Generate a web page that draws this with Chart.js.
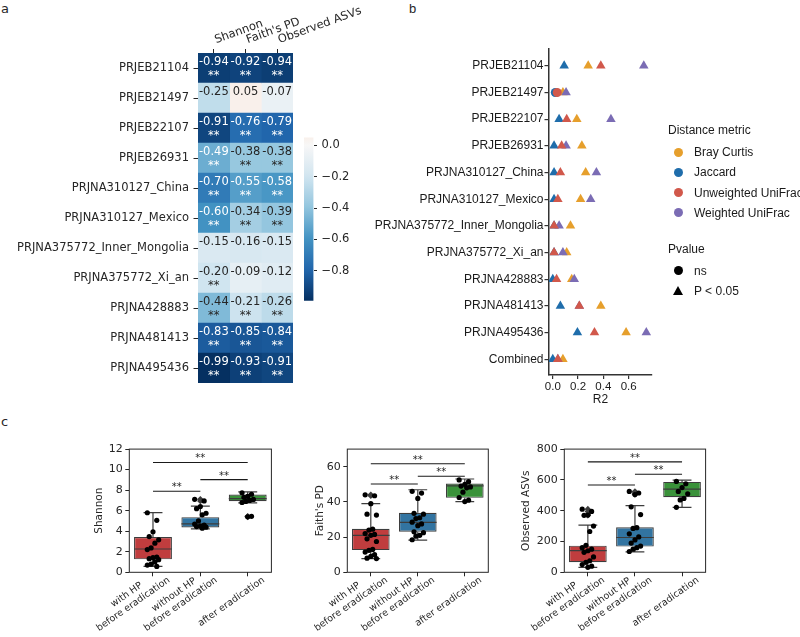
<!DOCTYPE html>
<html>
<head>
<meta charset="utf-8">
<title>Alpha and beta diversity</title>
<script src="https://cdn.jsdelivr.net/npm/chart.js@4.4.1/dist/chart.umd.min.js"></script>
<style>
  body { margin: 0; background: #fff; }
  #page { position: relative; width: 800px; height: 637px; overflow: hidden; font-family: 'DejaVu Sans', sans-serif; color: #262626; }
  canvas { position: absolute; }
  .tag { position: absolute; font-size: 13px; line-height: 1; }
  .lg { position: absolute; font: 12px 'Liberation Sans', Arial, sans-serif; color: #1a1a1a; white-space: nowrap; line-height: 14px; }
  .dot { position: absolute; width: 9px; height: 9px; border-radius: 50%; }
  .tri { position: absolute; width: 0; height: 0; border-left: 5px solid transparent; border-right: 5px solid transparent; border-bottom: 9px solid #000; }
</style>
</head>
<body>
<div id="page">
  <div class="tag" style="left:1px;top:2px">a</div>
  <div class="tag" style="left:409px;top:2px;font-family:'Liberation Sans'">b</div>
  <div class="tag" style="left:1px;top:415px">c</div>
  <canvas id="heat" width="380" height="395" style="left:0;top:0"></canvas>
  <canvas id="cbar" width="80" height="190" style="left:290px;top:126px"></canvas>
  <canvas id="perm" width="440" height="420" style="left:360px;top:0"></canvas>
  <div id="legend"></div>
  <canvas id="box1" width="185" height="197" style="left:93px;top:440px"></canvas>
  <canvas id="box2" width="180" height="197" style="left:314px;top:440px"></canvas>
  <canvas id="box3" width="190" height="197" style="left:520px;top:440px"></canvas>
</div>
<script>
// ---------- panel a: correlation heatmap ----------
const studies = ['PRJEB21104', 'PRJEB21497', 'PRJEB22107', 'PRJEB26931', 'PRJNA310127_China',
  'PRJNA310127_Mexico', 'PRJNA375772_Inner_Mongolia', 'PRJNA375772_Xi_an', 'PRJNA428883',
  'PRJNA481413', 'PRJNA495436'];
const alphaMetrics = ['Shannon', "Faith's PD", 'Observed ASVs'];
const corrShannon = [-0.94, -0.25, -0.91, -0.49, -0.70, -0.60, -0.15, -0.20, -0.44, -0.83, -0.99];
const corrFaith = [-0.92, 0.05, -0.76, -0.38, -0.55, -0.34, -0.16, -0.09, -0.21, -0.85, -0.93];
const corrObserved = [-0.94, -0.07, -0.79, -0.38, -0.58, -0.39, -0.15, -0.12, -0.26, -0.84, -0.91];
const sigShannon = ['**', '', '**', '**', '**', '**', '', '**', '**', '**', '**'];
const sigFaith = ['**', '', '**', '**', '**', '**', '', '', '**', '**', '**'];
const sigObserved = ['**', '', '**', '**', '**', '**', '', '', '**', '**', '**'];
const colorbarTicks = [0, -0.2, -0.4, -0.6, -0.8];

// ---------- panel b: PERMANOVA R2 ----------
const permGroups = studies.concat(['Combined']);
const distMetrics = ['Bray Curtis', 'Jaccard', 'Unweighted UniFrac', 'Weighted UniFrac'];
const r2Bray = [0.28, 0.08, 0.19, 0.23, 0.26, 0.22, 0.14, 0.11, 0.15, 0.38, 0.58, 0.08];
const r2Jaccard = [0.09, 0.02, 0.05, 0.01, 0.01, 0.01, 0.01, 0.01, 0.0, 0.06, 0.195, 0.0];
const r2Unweighted = [0.38, 0.035, 0.11, 0.07, 0.06, 0.04, 0.01, 0.01, 0.03, 0.21, 0.33, 0.04];
const r2Weighted = [0.72, 0.105, 0.46, 0.105, 0.345, 0.30, 0.05, 0.08, 0.17, 0.21, 0.74, 0.04];
const sigBray = [1, 1, 1, 1, 1, 1, 1, 1, 1, 1, 1, 1];
const sigJaccard = [1, 0, 1, 1, 1, 1, 1, 1, 1, 1, 1, 1];
const sigUnweighted = [1, 0, 1, 1, 1, 1, 1, 1, 1, 1, 1, 1];
const sigWeighted = [1, 1, 1, 1, 1, 1, 1, 1, 1, 1, 1, 1];
const r2Ticks = [0, 0.2, 0.4, 0.6];

// ---------- panel c: alpha diversity before / after eradication ----------
const groupLabels = [['with HP', 'before eradication'], ['without HP', 'before eradication'], 'after eradication'];
// five numbers per box: lower whisker, q1, median, q3, upper whisker
const shannonBox = [[0.57, 1.26, 2.27, 3.44, 5.81], [4.23, 4.36, 4.71, 5.37, 6.45], [6.76, 6.92, 7.17, 7.58, 7.84]];
const shannonWithHP = [5.8, 5.06, 3.95, 3.48, 3.16, 2.84, 2.37, 2.21, 1.48, 1.42, 1.33, 1.23, 1.01, 0.79, 0.7, 0.57];
const shannonWithoutHP = [7.11, 6.95, 6.4, 6.2, 5.75, 5.6, 5.0, 4.7, 4.6, 4.5, 4.45, 4.4, 4.3];
const shannonAfter = [7.75, 7.6, 7.4, 7.3, 7.1, 7.0, 6.9, 6.8, 5.45, 5.4];
const shannonSig = [[0, 1, 7.9, '**'], [1, 2, 9.03, '**'], [0, 2, 10.7, '**']];
const shannonTicks = [0, 2, 4, 6, 8, 10, 12];

const faithBox = [[7.8, 12.6, 21.0, 24.7, 39.0], [18.3, 23.1, 28.4, 33.8, 46.9], [40.1, 42.3, 49.1, 50.4, 53.0]];
const faithWithHP = [44, 43.5, 39, 33, 32.5, 24.5, 24, 22, 21.5, 21, 19, 17.5, 13, 12.5, 11.5, 10, 9, 8, 7.8];
const faithWithoutHP = [46, 45, 42, 33.5, 33, 31, 30.5, 28.5, 27.5, 26.5, 23, 22.5, 21, 20.5, 18.5];
const faithAfter = [52.5, 51.5, 50, 49, 48.5, 48, 45.5, 42.5, 41, 40.2];
const faithSig = [[0, 1, 50.2, '**'], [1, 2, 54.6, '**'], [0, 2, 61.7, '**']];
const faithTicks = [0, 20, 40, 60];

const asvBox = [[32, 65, 141, 173, 306], [133, 167, 226, 293, 433], [422, 488, 540, 587, 599]];
const asvWithHP = [410, 395, 372, 370, 300, 265, 175, 160, 150, 140, 130, 100, 75, 65, 50, 40, 32];
const asvWithoutHP = [525, 515, 505, 425, 375, 290, 285, 250, 230, 210, 190, 170, 160, 150, 135];
const asvAfter = [590, 575, 550, 525, 510, 480, 470, 422];
const asvSig = [[0, 1, 567, '**'], [1, 2, 637, '**'], [0, 2, 717, '**']];
const asvTicks = [0, 200, 400, 600, 800];

// ---------- styling ----------
const ink = '#262626';
const rdbuR = ['#053061', '#2166ac', '#4393c3', '#92c5de', '#d1e5f0', '#f7f7f7',
  '#fddbc7', '#f4a582', '#d6604d', '#b2182b', '#67001f'];
const distColors = ['#e69f2c', '#1f6dab', '#d1584b', '#7b6cb4'];
const distDrawOrder = [2, 3, 0, 1];
const groupColors = ['#c03d3e', '#3274a1', '#3a923a'];
const edgeGray = '#3d3d3d';

Chart.defaults.font.family = "'DejaVu Sans', sans-serif";
Chart.defaults.color = ink;
Chart.defaults.animation = false;
Chart.defaults.responsive = false;
Chart.defaults.devicePixelRatio = 1;
Chart.defaults.plugins.legend.display = false;
Chart.defaults.plugins.tooltip.enabled = false;

// colour map: RdBu_r centred on 0, like seaborn's heatmap(center=0)
const allCorr = corrShannon.concat(corrFaith, corrObserved);
const vMin = Math.min(...allCorr);
const vMax = Math.max(...allCorr);
const vRange = Math.max(Math.abs(vMin), Math.abs(vMax));

function hexToRgb(h) {
  return [1, 3, 5].map(k => parseInt(h.substr(k, 2), 16));
}
function corrRgb(v) {
  const t = Math.min(1, Math.max(0, (v + vRange) / (2 * vRange))) * (rdbuR.length - 1);
  const k = Math.min(Math.floor(t), rdbuR.length - 2);
  const f = t - k;
  const a = hexToRgb(rdbuR[k]), b = hexToRgb(rdbuR[k + 1]);
  return a.map((c, j) => Math.round(c + (b[j] - c) * f));
}
function corrColor(v) {
  const c = corrRgb(v);
  return 'rgb(' + c.join(',') + ')';
}
function textColor(v) {
  const lin = corrRgb(v).map(c => {
    c /= 255;
    return c <= 0.03928 ? c / 12.92 : Math.pow((c + 0.055) / 1.055, 2.4);
  });
  const lum = 0.2126 * lin[0] + 0.7152 * lin[1] + 0.0722 * lin[2];
  return lum > 0.408 ? ink : '#ffffff';
}

// ---------- heatmap ----------
const corrCols = [corrShannon, corrFaith, corrObserved];
const sigCols = [sigShannon, sigFaith, sigObserved];

const cellText = {
  id: 'cellText',
  afterDatasetsDraw(chart) {
    const ctx = chart.ctx;
    ctx.save();
    ctx.textAlign = 'center';
    ctx.textBaseline = 'middle';
    ctx.font = "11.5px 'DejaVu Sans'";
    chart.data.datasets.forEach((ds, d) => {
      chart.getDatasetMeta(d).data.forEach((bar, i) => {
        const p = bar.getProps(['x', 'y', 'base'], true);
        const cx = (p.x + p.base) / 2;
        const v = corrCols[d][i];
        ctx.fillStyle = textColor(v);
        ctx.fillText(v.toFixed(2), cx, p.y - 6);
        if (sigCols[d][i]) ctx.fillText(sigCols[d][i], cx, p.y + 8);
      });
    });
    ctx.restore();
  }
};

new Chart(document.getElementById('heat'), {
  type: 'bar',
  data: {
    labels: studies,
    datasets: corrCols.map((vals, c) => ({
      label: alphaMetrics[c],
      data: vals.map(() => 1),
      backgroundColor: vals.map(corrColor),
      borderWidth: 0,
      barPercentage: 1,
      categoryPercentage: 1
    }))
  },
  options: {
    indexAxis: 'y',
    layout: { padding: { right: 87, bottom: 12 } },
    scales: {
      x: {
        type: 'linear', position: 'top', stacked: true, min: 0, max: 3, offset: false,
        afterBuildTicks: s => { s.ticks = alphaMetrics.map((_, i) => ({ value: i + 0.5 })); },
        afterFit: s => { s.height = 53; },
        ticks: { autoSkip: false, minRotation: 20, maxRotation: 20, padding: 2, labelOffset: 6, font: { size: 11.5 }, callback: (v, i) => alphaMetrics[i] },
        grid: { drawOnChartArea: false, tickLength: 4, color: ink },
        border: { display: false }
      },
      y: {
        stacked: true,
        afterFit: s => { s.width = 198; },
        ticks: { autoSkip: false, padding: 4.5, font: { size: 11.5 } },
        grid: { drawOnChartArea: false, offset: false, tickLength: 4.5, color: ink },
        border: { display: false }
      }
    }
  },
  plugins: [cellText]
});

// ---------- colour bar ----------
new Chart(document.getElementById('cbar'), {
  type: 'bar',
  data: {
    labels: [''],
    datasets: [{
      data: [[vMin, vMax]],
      barPercentage: 1,
      categoryPercentage: 1,
      borderWidth: 0,
      backgroundColor: c => {
        const chart = c.chart;
        if (!chart.chartArea) return '#ffffff';
        const ys = chart.scales.y;
        const g = chart.ctx.createLinearGradient(0, ys.getPixelForValue(vMin), 0, ys.getPixelForValue(vMax));
        for (let k = 0; k <= 40; k++) {
          g.addColorStop(k / 40, corrColor(vMin + (vMax - vMin) * k / 40));
        }
        return g;
      }
    }]
  },
  options: {
    layout: { padding: { left: 14, top: 10, bottom: 15.3 } },
    scales: {
      x: { display: false },
      y: {
        position: 'right', min: vMin, max: vMax,
        afterBuildTicks: s => { s.ticks = colorbarTicks.map(v => ({ value: v })); },
        afterFit: s => { s.width = 56.5; },
        ticks: { padding: 4.5, font: { size: 11.5 }, callback: v => v === 0 ? '0.0' : '\u2212' + Math.abs(v).toFixed(1) },
        grid: { drawOnChartArea: false, tickLength: 3.5, color: ink },
        border: { display: false }
      }
    }
  }
});

// ---------- panel b ----------
const r2Sets = [r2Bray, r2Jaccard, r2Unweighted, r2Weighted];
const sigSets = [sigBray, sigJaccard, sigUnweighted, sigWeighted];
const arial = "'Liberation Sans', Arial, sans-serif";

new Chart(document.getElementById('perm'), {
  type: 'scatter',
  data: {
    datasets: distMetrics.map((name, m) => ({
      label: name,
      data: r2Sets[m].map((v, i) => ({ x: v, y: i })),
      order: distDrawOrder[m],
      backgroundColor: distColors[m],
      borderColor: distColors[m],
      borderWidth: 0,
      pointStyle: c => sigSets[m][c.dataIndex] ? 'triangle' : 'circle',
      pointRadius: c => sigSets[m][c.dataIndex] ? 5.5 : 4.5
    }))
  },
  options: {
    layout: { padding: { top: 49, right: 148 } },
    scales: {
      x: {
        type: 'linear', min: -0.03, max: 0.785,
        afterBuildTicks: s => { s.ticks = r2Ticks.map(v => ({ value: v })); },
        afterFit: s => { s.height = 45; },
        ticks: { padding: 1, color: '#1a1a1a', font: { family: arial, size: 11.5 }, callback: v => v.toFixed(1) },
        grid: { drawOnChartArea: false, tickLength: 4, color: '#333', lineWidth: 1.2 },
        border: { color: '#333', width: 1.5 },
        title: { display: true, text: 'R2', color: '#1a1a1a', font: { family: arial, size: 12 }, padding: { top: 0, bottom: 12.8 } }
      },
      y: {
        type: 'linear', reverse: true, min: -0.63, max: 11.59,
        afterBuildTicks: s => { s.ticks = permGroups.map((_, i) => ({ value: i })); },
        afterFit: s => { s.width = 189; },
        ticks: { autoSkip: false, padding: 1, color: '#1a1a1a', font: { family: arial, size: 12 }, callback: v => permGroups[v] },
        grid: { drawOnChartArea: false, tickLength: 4.5, color: '#333', lineWidth: 1.2 },
        border: { color: '#333', width: 1.5 }
      }
    }
  }
});

// legend for panel b
const legend = document.getElementById('legend');
function legendText(text, left, cy) {
  const el = document.createElement('div');
  el.className = 'lg';
  el.textContent = text;
  el.style.left = left + 'px';
  el.style.top = (cy - 7) + 'px';
  legend.appendChild(el);
}
function legendMark(cls, color, cx, cy) {
  const el = document.createElement('div');
  el.className = cls;
  if (cls === 'dot') {
    el.style.background = color;
    el.style.left = (cx - 4.5) + 'px';
    el.style.top = (cy - 4.5) + 'px';
  } else {
    el.style.borderBottomColor = color;
    el.style.left = (cx - 5) + 'px';
    el.style.top = (cy - 5) + 'px';
  }
  legend.appendChild(el);
}
legendText('Distance metric', 668, 130);
distMetrics.forEach((name, m) => {
  legendMark('dot', distColors[m], 678.3, 152 + 20.3 * m);
  legendText(name, 694, 152 + 20.3 * m);
});
legendText('Pvalue', 668, 249.3);
legendMark('dot', '#000', 678.3, 270.7);
legendText('ns', 694, 270.7);
legendMark('tri', '#000', 678.3, 291);
legendText('P < 0.05', 694, 291);

// ---------- panel c ----------
const boxHalf = 0.4;
const capHalf = 0.2;
const labelAngle = 35;
const jitter = k => ((k * 5) % 7 - 3) * 0.04;

function boxPlugins(brackets, labelShift) {
  return [{
    id: 'frame',
    afterDatasetsDraw(chart) {
      const a = chart.chartArea, ctx = chart.ctx;
      ctx.save();
      ctx.strokeStyle = ink;
      ctx.lineWidth = 1;
      ctx.strokeRect(a.left, a.top, a.right - a.left, a.bottom - a.top);
      ctx.restore();
    }
  }, {
    id: 'stars',
    afterDatasetsDraw(chart) {
      const { ctx, scales: { x, y } } = chart;
      ctx.save();
      ctx.font = "10px 'DejaVu Sans'";
      ctx.fillStyle = ink;
      ctx.textAlign = 'center';
      ctx.textBaseline = 'alphabetic';
      brackets.forEach(([a, b, h, txt]) => ctx.fillText(txt, x.getPixelForValue((a + b) / 2), y.getPixelForValue(h) - 1));
      ctx.restore();
    }
  }, {
    id: 'groupLabels',
    afterDraw(chart) {
      const { ctx, scales: { x }, chartArea } = chart;
      ctx.save();
      ctx.font = "9.5px 'DejaVu Sans'";
      ctx.fillStyle = ink;
      ctx.textAlign = 'center';
      ctx.textBaseline = 'middle';
      groupLabels.forEach((lab, i) => {
        const lines = [].concat(lab);
        const w = Math.max(...lines.map(t => ctx.measureText(t).width));
        ctx.save();
        ctx.translate(x.getPixelForValue(i) + labelShift[0], chartArea.bottom + labelShift[1]);
        ctx.rotate(-labelAngle * Math.PI / 180);
        lines.forEach((t, k) => ctx.fillText(t, -w / 2, (k - lines.length + 1) * 11.5));
        ctx.restore();
      });
      ctx.restore();
    }
  }];
}

function boxChart(id, stats, groups, brackets, yTicks, yMax, title, axisWidth, padRight) {
  const whiskers = [];
  const seg = (x0, y0, x1, y1) => whiskers.push({ x: x0, y: y0 }, { x: x1, y: y1 }, { x: x1, y: null });
  stats.forEach((s, i) => {
    seg(i, s[0], i, s[1]);
    seg(i, s[3], i, s[4]);
    seg(i - capHalf, s[0], i + capHalf, s[0]);
    seg(i - capHalf, s[4], i + capHalf, s[4]);
    seg(i - boxHalf, s[2], i + boxHalf, s[2]);
  });
  const fliers = [];
  const points = [];
  groups.forEach((vals, i) => vals.forEach((v, k) => {
    if (v < stats[i][0] || v > stats[i][4]) fliers.push({ x: i, y: v });
    points.push({ x: i + jitter(k), y: v });
  }));
  const bracketLines = [];
  brackets.forEach(([a, b, h]) => bracketLines.push({ x: a, y: h }, { x: b, y: h }, { x: b, y: null }));

  new Chart(document.getElementById(id), {
    type: 'bar',
    data: {
      datasets: [{
        type: 'bar',
        data: stats.map((s, i) => ({ x: i, y: [s[1], s[3]] })),
        backgroundColor: groupColors,
        borderColor: edgeGray,
        borderWidth: 1.2,
        borderSkipped: false,
        barPercentage: 0.8,
        categoryPercentage: 1,
        order: 4
      }, {
        type: 'line',
        data: whiskers,
        borderColor: edgeGray,
        borderWidth: 1.2,
        pointRadius: 0,
        spanGaps: false,
        order: 3
      }, {
        type: 'scatter',
        data: fliers,
        pointStyle: 'rectRot',
        pointRadius: 3.3,
        backgroundColor: edgeGray,
        borderWidth: 0,
        order: 2
      }, {
        type: 'scatter',
        data: points,
        pointRadius: 2.6,
        backgroundColor: '#000',
        borderWidth: 0,
        order: 1
      }, {
        type: 'line',
        data: bracketLines,
        borderColor: '#1a1a1a',
        borderWidth: 1.1,
        pointRadius: 0,
        spanGaps: false,
        order: 0
      }]
    },
    options: {
      layout: { padding: { top: 5.3, right: padRight } },
      scales: {
        x: {
          type: 'linear', min: -0.5, max: 2.5, offset: false,
          afterBuildTicks: s => { s.ticks = groupLabels.map((_, i) => ({ value: i })); },
          afterFit: s => { s.height = 64.7; },
          ticks: { display: false },
          grid: { drawOnChartArea: false, offset: false, tickLength: 4, color: ink },
          border: { display: false }
        },
        y: {
          min: 0, max: yMax,
          afterBuildTicks: s => { s.ticks = yTicks.map(v => ({ value: v })); },
          afterFit: s => { s.width = axisWidth; },
          ticks: { padding: 2.5, font: { size: 11 } },
          grid: { drawOnChartArea: false, tickLength: 4, color: ink },
          border: { display: false },
          title: { display: true, text: title, font: { size: 10.5 }, padding: 0 }
        }
      }
    },
    plugins: boxPlugins(brackets, [16, 7])
  });
}

boxChart('box1', shannonBox, [shannonWithHP, shannonWithoutHP, shannonAfter], shannonSig, shannonTicks, 12, 'Shannon', 36.3, 6.6);
boxChart('box2', faithBox, [faithWithHP, faithWithoutHP, faithAfter], faithSig, faithTicks, 70, "Faith's PD", 33.3, 5.7);
boxChart('box3', asvBox, [asvWithHP, asvWithoutHP, asvAfter], asvSig, asvTicks, 800, 'Observed ASVs', 44.3, 4.4);
</script>
</body>
</html>
